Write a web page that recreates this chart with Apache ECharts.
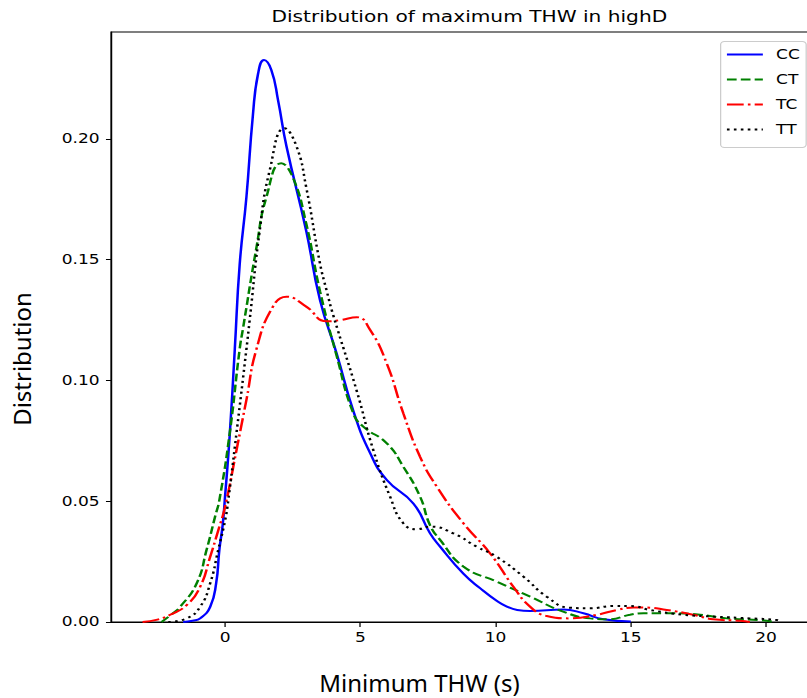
<!DOCTYPE html>
<html>
<head>
<meta charset="utf-8">
<script src="https://cdn.jsdelivr.net/npm/echarts@6/dist/echarts.min.js"></script>
<style>
html,body{margin:0;padding:0;width:807px;height:698px;overflow:hidden;background:#fff;}
#main{width:650px;height:698px;transform:scaleX(1.2609375);transform-origin:0 0;}
</style>
</head>
<body>
<div id="main"></div>
<script>
// ---- data ----
const seriesNames = ['CC', 'CT', 'TC', 'TT'];

const ccX = [-1.55, -1.2, -0.92, -0.55, -0.33, -0.21, -0.09, 0.0, 0.17, 0.36, 0.54, 0.79, 1.03, 1.22, 1.44, 1.71, 1.96, 2.27, 3.0, 3.51, 4.13, 4.74, 5.36, 5.98, 6.96, 7.58, 7.95, 8.81, 9.45, 10.04, 10.4, 10.8, 11.28, 12.5, 13.25, 13.99, 15.0];
const ccY = [0, 0.0005, 0.0015, 0.0063, 0.016, 0.03, 0.040, 0.052, 0.077, 0.113, 0.148, 0.176, 0.21, 0.227, 0.2327, 0.2286, 0.216, 0.197, 0.162, 0.1333, 0.111, 0.0875, 0.070, 0.0588, 0.0491, 0.0367, 0.0312, 0.020, 0.0138, 0.0088, 0.0065, 0.0050, 0.0046, 0.0052, 0.0036, 0.0011, 0.0002];

const ctX = [-2.35, -2.0, -1.66, -1.05, -0.68, -0.37, -0.21, 0.17, 0.54, 0.67, 1.16, 1.53, 2.08, 2.51, 3.0, 3.51, 4.13, 4.74, 5.11, 5.98, 6.59, 7.21, 7.58, 7.95, 8.81, 10.04, 11.28, 12.5, 13.5, 14.2, 14.97, 15.47, 16.57, 17.56, 18.55, 19.78, 20.3];
const ctY = [0, 0.003, 0.0063, 0.016, 0.03, 0.0436, 0.0505, 0.078, 0.113, 0.122, 0.155, 0.176, 0.19, 0.184, 0.165, 0.137, 0.110, 0.0864, 0.0809, 0.074, 0.0643, 0.0519, 0.040, 0.034, 0.023, 0.0167, 0.0105, 0.0043, 0.0015, 0.0011, 0.003, 0.0036, 0.0036, 0.003, 0.0015, 0.0008, 0];

const tcX = [-3.05, -2.5, -2.03, -1.42, -0.92, -0.55, -0.25, 0.0, 0.42, 0.79, 1.16, 1.77, 2.27, 3.0, 3.75, 4.25, 4.87, 5.36, 5.98, 6.59, 7.21, 7.83, 8.81, 9.8, 10.66, 11.28, 11.89, 12.77, 13.75, 14.49, 15.1, 15.47, 16.33, 17.3, 18.05, 19.04, 19.4];
const tcY = [0, 0.001, 0.003, 0.007, 0.0146, 0.027, 0.038, 0.0477, 0.071, 0.092, 0.113, 0.1306, 0.1347, 0.1306, 0.1245, 0.125, 0.1262, 0.121, 0.107, 0.0864, 0.0684, 0.056, 0.0409, 0.0284, 0.0146, 0.0063, 0.0025, 0.0015, 0.003, 0.005, 0.006, 0.006, 0.005, 0.003, 0.0011, 0.0005, 0];

const ttX = [-2.1, -1.42, -0.92, -0.55, -0.25, 0.0, 0.12, 0.42, 0.79, 0.91, 1.28, 1.65, 2.2, 2.64, 3.0, 3.5, 3.76, 4.0, 4.86, 5.48, 6.1, 6.59, 7.09, 7.58, 8.44, 9.3, 10.04, 11.03, 11.89, 12.75, 13.5, 14.36, 15.0, 15.7, 16.94, 18.17, 19.4, 20.4, 20.55];
const ttY = [0, 0.0015, 0.0063, 0.016, 0.03, 0.042, 0.0505, 0.078, 0.113, 0.125, 0.162, 0.187, 0.2044, 0.197, 0.180, 0.149, 0.137, 0.127, 0.096, 0.0712, 0.0519, 0.0409, 0.0384, 0.0395, 0.0367, 0.0312, 0.027, 0.0188, 0.0105, 0.0059, 0.0057, 0.0066, 0.0066, 0.005, 0.003, 0.0022, 0.0015, 0.0008, 0];

const xTicks = [0, 5, 10, 15, 20];
const yTicks = [0, 0.05, 0.10, 0.15, 0.20];
const titleText = 'Distribution of maximum THW in highD';
const xLabelText = 'Minimum THW (s)';
const yLabelText = 'Distribution';

// ---- build ----
const S = 1.2609375; // horizontal stretch of the reference image
const pairs = (xs, ys) => xs.map((x, i) => [x, ys[i]]);
const colors = ['#0000ff', '#008000', '#ff0000', '#000000'];
const dashes = ['solid', [7.7, 3.3], [13.3, 3.3, 2.1, 3.3], [2.1, 3.4]];
const allData = [pairs(ccX, ccY), pairs(ctX, ctY), pairs(tcX, tcY), pairs(ttX, ttY)];

const chart = echarts.init(document.getElementById('main'), null, {renderer: 'svg'});
const option = {
  animation: false,
  textStyle: {fontFamily: 'DejaVu Sans'},
  title: {
    text: titleText,
    left: 463 / S,
    top: 3,
    textAlign: 'center',
    textStyle: {fontFamily: 'DejaVu Sans', fontSize: 16, fontWeight: 'normal', color: '#000'}
  },
  legend: {
    data: seriesNames,
    orient: 'vertical',
    left: 571.5,
    top: 41.5,
    padding: [6, 5, 11, 4],
    itemWidth: 28.5,
    itemHeight: 14,
    itemGap: 11,
    borderColor: '#cccccc',
    borderWidth: 1,
    borderRadius: 3,
    backgroundColor: 'rgba(255,255,255,0.8)',
    itemStyle: {color: 'rgba(0,0,0,0)', borderColor: 'rgba(0,0,0,0)', borderWidth: 0, opacity: 0},
    textStyle: {fontFamily: 'DejaVu Sans', fontSize: 13.5, color: '#000', padding: [0, 0, 0, 5.5]}
  },
  grid: {
    left: 111 / S,
    right: 650 - 811.4 / S,
    top: 32,
    bottom: 76,
    show: true,
    borderColor: '#000',
    borderWidth: 1,
    containLabel: false,
    outerBoundsMode: 'none'
  },
  xAxis: {
    type: 'value',
    min: -4.217,
    max: 21.677,
    splitLine: {show: false},
    axisLine: {onZero: false, lineStyle: {color: '#000', width: 1}},
    axisTick: {customValues: xTicks, length: 5, lineStyle: {color: '#000', width: 1}},
    axisLabel: {customValues: xTicks, margin: 9, fontFamily: 'DejaVu Sans', fontSize: 13.5, color: '#000'}
  },
  yAxis: {
    type: 'value',
    min: 0,
    max: 0.2443,
    splitLine: {show: false},
    axisLine: {onZero: false, lineStyle: {color: '#000', width: 1}},
    axisTick: {customValues: yTicks, length: 4, lineStyle: {color: '#000', width: 1}},
    axisLabel: {customValues: yTicks, margin: 9, fontFamily: 'DejaVu Sans', fontSize: 13.5, color: '#000',
      formatter: v => v.toFixed(2)}
  },
  graphic: [
    {type: 'text', x: 419.5 / S, y: 682, scaleX: 1 / S,
     style: {text: xLabelText, fontFamily: 'Noto Sans', fontSize: 24, fill: '#000',
             align: 'center', verticalAlign: 'middle', textAlign: 'center', textVerticalAlign: 'middle'}},
    {type: 'text', x: 22 / S, y: 359, rotation: Math.PI / 2, scaleY: 1 / S,
     style: {text: yLabelText, fontFamily: 'Noto Sans', fontSize: 24, fill: '#000',
             align: 'center', verticalAlign: 'middle', textAlign: 'center', textVerticalAlign: 'middle'}}
  ],
  series: seriesNames.map((name, i) => ({
    name: name,
    type: 'line',
    data: allData[i],
    smooth: 0.5,
    showSymbol: false,
    symbol: 'none',
    color: colors[i],
    lineStyle: {color: colors[i], width: 2, type: dashes[i]},
    z: 3 + i
  }))
};
chart.setOption(option);
</script>
</body>
</html>
